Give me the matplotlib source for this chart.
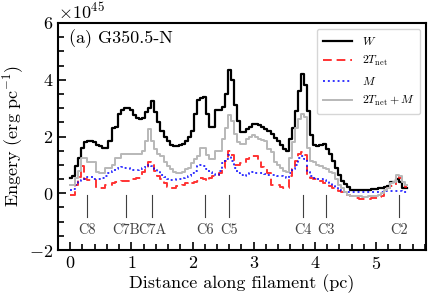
import numpy as np
import matplotlib
matplotlib.use("Agg")
import matplotlib.pyplot as plt
from matplotlib.ticker import MultipleLocator, AutoMinorLocator

plt.rcParams['font.family'] = 'serif'
plt.rcParams['font.serif'] = ['cmr10']
plt.rcParams['mathtext.fontset'] = 'cm'
plt.rcParams['axes.formatter.use_mathtext'] = True
plt.rcParams['axes.unicode_minus'] = True

# distance along filament (pc), bin centres
dist = np.round(np.arange(0, 5.51, 0.05), 2)

# energies per unit length, in units of 1e45 erg/pc
W = [0.55, 0.6, 0.95, 1.25, 1.6, 1.8, 1.85, 1.85, 1.8, 1.7,
     1.65, 1.6, 1.6, 1.85, 2.3, 2.35, 2.8, 2.95, 3.0, 3.0,
     2.95, 2.75, 2.65, 2.6, 2.65, 2.85, 3.0, 3.25, 2.85, 2.5,
     2.2, 2.0, 1.85, 1.7, 1.65, 1.65, 1.7, 1.75, 1.85, 2.0,
     2.2, 2.8, 3.3, 3.35, 3.4, 2.8, 2.35, 2.35, 2.95, 2.95,
     3.05, 3.5, 4.35, 4.0, 3.1, 2.55, 2.15, 2.15, 2.25, 2.35,
     2.45, 2.45, 2.4, 2.35, 2.25, 2.2, 2.1, 1.95, 1.85, 1.7,
     1.55, 1.5, 1.9, 2.3, 2.9, 3.6, 4.2, 3.8, 2.9, 2.05,
     1.7, 1.65, 1.7, 1.75, 1.55, 1.4, 1.15, 0.9, 0.65, 0.45,
     0.32, 0.22, 0.12, 0.1, 0.1, 0.1, 0.1, 0.12, 0.13, 0.15,
     0.15, 0.18, 0.2, 0.22, 0.25, 0.4, 0.4, 0.5, 0.4, 0.2,
     0.2]
T2 = [-0.07, -0.05, 0.28, 0.56, 0.95, 0.5, 0.46, 0.46, 0.46, 0.2,
      0.18, 0.18, 0.3, 0.3, 0.35, 0.4, 0.4, 0.42, 0.42, 0.42,
      0.5, 0.5, 0.53, 0.55, 0.75, 0.85, 1.1, 1.0, 0.8, 0.6,
      0.5, 0.35, 0.22, 0.2, 0.2, 0.25, 0.25, 0.3, 0.35, 0.4,
      0.35, 0.4, 0.45, 0.55, 0.5, 0.45, 0.55, 0.6, 0.65, 0.7,
      0.9, 1.15, 1.5, 1.35, 1.0, 0.98, 1.05, 1.05, 1.2, 1.25,
      1.3, 1.3, 1.15, 0.92, 0.9, 0.7, 0.3, 0.28, 0.28, 0.22,
      0.2, 0.2, 0.6, 0.85, 1.15, 1.4, 1.45, 1.35, 0.65, 0.55,
      0.5, 0.5, 0.45, 0.35, 0.35, 0.25, 0.2, 0.1, 0.08, 0.05,
      0.0, -0.05, -0.1, -0.15, -0.18, -0.2, -0.2, -0.2, -0.2, -0.18,
      -0.15, -0.12, -0.1, 0.05, 0.2, 0.25, 0.3, 0.65, 0.55, 0.35,
      0.22]
M = [0.1, 0.15, 0.28, 0.4, 0.46, 0.5, 0.56, 0.56, 0.52, 0.5,
     0.5, 0.55, 0.6, 0.7, 0.78, 0.85, 0.9, 0.92, 0.9, 0.88,
     0.85, 0.82, 0.82, 0.85, 0.9, 0.95, 1.0, 0.95, 0.85, 0.75,
     0.65, 0.58, 0.52, 0.48, 0.48, 0.5, 0.52, 0.55, 0.58, 0.6,
     0.7, 0.8, 0.95, 1.0, 0.95, 0.85, 0.75, 0.68, 0.65, 0.8,
     1.05, 1.2, 1.35, 1.15, 0.9, 0.72, 0.65, 0.62, 0.68, 0.72,
     0.75, 0.72, 0.72, 0.7, 0.68, 0.66, 0.65, 0.63, 0.62, 0.6,
     0.56, 0.55, 0.7, 0.85, 1.0, 1.25, 1.3, 1.2, 0.75, 0.6,
     0.53, 0.5, 0.5, 0.46, 0.42, 0.35, 0.25, 0.2, 0.12, 0.08,
     0.06, 0.05, 0.05, 0.05, 0.05, 0.05, 0.05, 0.05, 0.05, 0.05,
     0.05, 0.06, 0.06, 0.07, 0.08, 0.08, 0.08, 0.08, 0.07, 0.06,
     0.06]
T2M = [0.3, 0.3, 0.55, 0.8, 1.25, 1.25, 1.1, 1.1, 1.1, 0.75,
       0.7, 0.7, 0.88, 0.88, 1.0, 1.25, 1.25, 1.38, 1.38, 1.38,
       1.4, 1.4, 1.4, 1.4, 1.5, 1.85, 2.25, 1.85, 1.55, 1.4,
       1.3, 1.1, 0.95, 0.85, 0.75, 0.72, 0.72, 0.75, 0.85, 0.9,
       1.05, 1.2, 1.3, 1.6, 1.6, 1.35, 1.2, 1.2, 1.5, 1.5,
       1.9, 2.3, 2.75, 2.55, 2.1, 1.8, 1.72, 1.75, 1.9, 2.0,
       2.05, 2.0, 1.9, 1.88, 1.85, 1.55, 1.45, 1.1, 1.0, 0.9,
       0.8, 0.75, 1.25, 1.8, 2.3, 2.6, 2.8, 2.7, 1.6, 1.15,
       1.1, 1.0, 0.95, 0.9, 0.85, 0.75, 0.7, 0.5, 0.3, 0.2,
       0.05, -0.05, -0.08, -0.1, -0.1, -0.1, -0.12, -0.12, -0.1, -0.1,
       -0.08, -0.05, 0.0, 0.1, 0.2, 0.35, 0.4, 0.65, 0.6, 0.4,
       0.28]

# clump positions (pc)
clump_names = ['C8', 'C7B', 'C7A', 'C6', 'C5', 'C4', 'C3', 'C2']
clump_pos = [0.28, 0.91, 1.335, 2.21, 2.6, 3.81, 4.19, 5.37]

scale = 1e45

fig = plt.figure(figsize=(4.43, 3.02), dpi=100)
ax = fig.add_axes([0.131, 0.172, 0.831, 0.752])

ax.plot(dist, np.array(W) * scale, drawstyle='steps-mid', color='k', lw=1.6, label='$W$')
ax.plot(dist, np.array(T2) * scale, drawstyle='steps-mid', color='red', lw=1.4,
        ls=(0, (4.5, 2.5)), alpha=0.8, label=r'$2T_{\rm net}$')
ax.plot(dist, np.array(M) * scale, drawstyle='steps-mid', color='blue', lw=1.4,
        ls=(0, (1, 1.5)), alpha=0.8, label='$M$')
ax.plot(dist, np.array(T2M) * scale, drawstyle='steps-mid', color='0.72', lw=1.4,
        label=r'$2T_{\rm net}+M$')

for name, xp in zip(clump_names, clump_pos):
    ax.plot([xp, xp], [-0.05 * scale, -0.85 * scale], color='0.25', lw=0.8)
    ax.text(xp, -1.3 * scale, name, ha='center', va='center', fontsize=10.3, color='0.25')

ax.text(0.03, 0.93, '(a) G350.5-N', transform=ax.transAxes, fontsize=13,
        ha='left', va='center')

ax.set_xlim(-0.2, 5.82)
ax.set_ylim(-2 * scale, 6 * scale)
ax.xaxis.set_major_locator(MultipleLocator(1))
ax.xaxis.set_minor_locator(AutoMinorLocator(5))
ax.yaxis.set_major_locator(MultipleLocator(2 * scale))
ax.yaxis.set_minor_locator(AutoMinorLocator(4))
ax.tick_params(which='both', direction='in', top=False, right=False, labelsize=13, width=1.2)
ax.tick_params(which='major', length=6)
ax.tick_params(which='minor', length=4)
ax.yaxis.get_offset_text().set_fontsize(13)
for sp in ax.spines.values():
    sp.set_linewidth(1.5)

ax.set_xlabel('Distance along filament (pc)', fontsize=13, labelpad=2)
ax.set_ylabel(r'Engery $(\rm erg\ pc^{-1})$', fontsize=13, labelpad=2)

ax.legend(loc='upper right', fontsize=8.5, handlelength=2.5, frameon=True,
          borderpad=0.5, labelspacing=0.6)

fig.savefig('out.png', dpi=100)
